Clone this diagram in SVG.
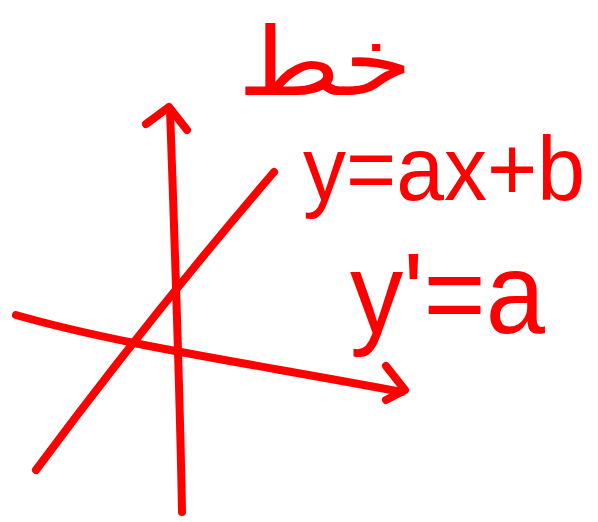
<svg xmlns="http://www.w3.org/2000/svg" width="598" height="522" viewBox="0 0 598 522">
<style>
.s{fill:none;stroke:#ff0000;stroke-width:8;stroke-linecap:round;stroke-linejoin:round}
.t{fill:#ff0000;font-family:"Liberation Sans",Arial,sans-serif}
</style>
<rect width="598" height="522" fill="#ffffff"/>
<g id="connectors">
<path id="y-axis" class="s" d="M182,512 C180,400 175,250 170,110"/>
<path id="y-arrow" class="s" d="M146,124 L169,107 L187,130"/>
<path id="x-axis" class="s" d="M16,315 C120,345 260,365 402,392"/>
<path id="x-arrow" class="s" d="M386,366 L405,390 L386,400"/>
<path id="line" class="s" d="M36,470 C110,370 190,270 274,172"/>
</g>
<g id="label-khatt">
<text x="325" y="95" text-anchor="middle" textLength="175" lengthAdjust="spacingAndGlyphs" style="fill:#ff0000;font-family:'DejaVu Sans','Noto Sans',sans-serif;font-size:95px">خط</text>
</g>
<g id="label-eq1">
<text class="t" x="303" y="200" font-size="90" textLength="282" lengthAdjust="spacingAndGlyphs">y=ax+b</text>
</g>
<g id="label-eq2">
<text class="t" x="350" y="333" font-size="115" textLength="195" lengthAdjust="spacingAndGlyphs">y'=a</text>
</g>
</svg>
